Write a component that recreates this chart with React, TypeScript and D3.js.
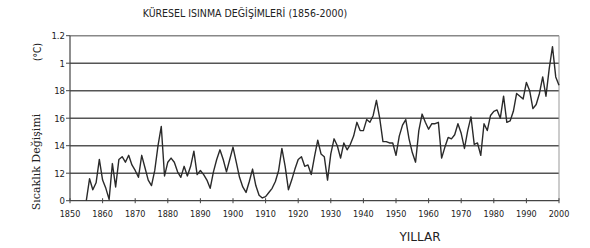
import React from 'react';
import * as d3 from 'd3';

const startYear = 1855;
const tempValues = [
  0.00, 0.16, 0.08, 0.13, 0.30, 0.15, 0.09, 0.01, 0.27, 0.10,
  0.30, 0.32, 0.28, 0.33, 0.26, 0.22, 0.17, 0.33, 0.24, 0.15,
  0.11, 0.22, 0.40, 0.54, 0.18, 0.28, 0.31, 0.28, 0.21, 0.17,
  0.25, 0.18, 0.25, 0.36, 0.19, 0.22, 0.19, 0.15, 0.09, 0.21,
  0.30, 0.37, 0.30, 0.21, 0.30, 0.39, 0.28, 0.17, 0.10, 0.06,
  0.14, 0.23, 0.11, 0.04, 0.02, 0.03, 0.06, 0.09, 0.14, 0.22,
  0.38, 0.25, 0.08, 0.15, 0.23, 0.30, 0.32, 0.25, 0.26, 0.19,
  0.32, 0.44, 0.34, 0.32, 0.15, 0.34, 0.45, 0.40, 0.31, 0.42,
  0.37, 0.41, 0.47, 0.57, 0.51, 0.51, 0.59, 0.57, 0.62, 0.73,
  0.60, 0.43, 0.43, 0.42, 0.42, 0.33, 0.47, 0.55, 0.59, 0.45,
  0.35, 0.28, 0.51, 0.63, 0.57, 0.52, 0.56, 0.56, 0.57, 0.31,
  0.39, 0.46, 0.45, 0.48, 0.56, 0.49, 0.38, 0.51, 0.61, 0.41,
  0.42, 0.33, 0.56, 0.51, 0.62, 0.65, 0.66, 0.60, 0.76, 0.57,
  0.58, 0.65, 0.78, 0.76, 0.74, 0.86, 0.80, 0.67, 0.70, 0.78,
  0.90, 0.76, 0.96, 1.12, 0.90, 0.84,
];
const yTicks = [0, 0.2, 0.4, 0.6, 0.8, 1, 1.2];
const yTickLabels = ['0', '12', '14', '16', '18', '1', '1.2'];
const xTicks = [1850, 1860, 1870, 1880, 1890, 1900, 1910, 1920, 1930, 1940, 1950, 1960, 1970, 1980, 1990, 2000];
const titleText = 'KÜRESEL ISINMA DEĞİŞİMLERİ (1856-2000)';
const yLabel = 'Sıcaklık Değişimi';
const unitLabel = '(°C)';
const xLabel = 'YILLAR';

const W = 590;
const H = 248;
const left = 70;
const right = 559;
const top = 35.7;
const bottom = 200.7;
const narrow = "'DejaVu Sans Condensed', 'Liberation Sans Narrow', 'DejaVu Sans', sans-serif";

export default function App() {
  const x = d3.scaleLinear().domain([1850, 2000]).range([left, right]);
  const y = d3.scaleLinear().domain([0, 1.2]).range([bottom, top]);
  const points: [number, number][] = tempValues.map((v, i) => [startYear + i, v]);
  const line = d3
    .line<[number, number]>()
    .x((d) => x(d[0]))
    .y((d) => y(d[1]));

  return (
    <svg
      width={W}
      height={H}
      style={{ position: 'absolute', left: 0, top: 0, background: '#fff' }}
    >
      <rect x={0} y={0} width={W} height={H} fill="#fff" />
      <text
        x={245}
        y={17}
        textAnchor="middle"
        fontFamily={narrow}
        fontSize={10.5}
        fill="#222"
      >
        {titleText}
      </text>

      {yTicks.map((t) =>
        t === 0 ? null : (
          <line
            key={'g' + t}
            x1={left}
            x2={right}
            y1={y(t)}
            y2={y(t)}
            stroke={t === 1.2 ? '#888' : '#555'}
            strokeWidth={1.4}
          />
        )
      )}
      <line x1={right} x2={right} y1={top} y2={bottom} stroke="#999" strokeWidth={1} />
      <line x1={left} x2={right} y1={bottom} y2={bottom} stroke="#444" strokeWidth={1.2} />
      <line x1={left} x2={left} y1={top} y2={bottom} stroke="#444" strokeWidth={1.2} />

      {yTicks.map((t, i) => (
        <g key={'yt' + t}>
          <line x1={left - 4} x2={left} y1={y(t)} y2={y(t)} stroke="#444" strokeWidth={1} />
          <text
            x={left - 5}
            y={y(t) + 3.5}
            textAnchor="end"
            fontFamily={narrow}
            fontSize={9.5}
            fill="#222"
          >
            {yTickLabels[i]}
          </text>
        </g>
      ))}

      {xTicks.map((t) => (
        <g key={'xt' + t}>
          <line x1={x(t)} x2={x(t)} y1={bottom - 2.5} y2={bottom + 2.5} stroke="#444" strokeWidth={1} />
          <text
            x={x(t)}
            y={bottom + 16}
            textAnchor="middle"
            fontFamily={narrow}
            fontSize={9}
            fill="#222"
          >
            {t}
          </text>
        </g>
      ))}

      <path d={line(points) || ''} fill="none" stroke="#2a2a2a" strokeWidth={1.4} strokeLinejoin="round" />

      <text
        transform={`translate(40,162) rotate(-90)`}
        textAnchor="middle"
        fontFamily="'DejaVu Serif', 'Liberation Serif', serif"
        fontSize={11}
        fill="#222"
      >
        {yLabel}
      </text>
      <text
        transform={`translate(41,52) rotate(-90)`}
        textAnchor="middle"
        fontFamily={narrow}
        fontSize={10}
        fill="#222"
      >
        {unitLabel}
      </text>
      <text
        x={420}
        y={241}
        textAnchor="middle"
        fontFamily="'DejaVu Sans', sans-serif"
        fontSize={12}
        fill="#222"
      >
        {xLabel}
      </text>
    </svg>
  );
}
